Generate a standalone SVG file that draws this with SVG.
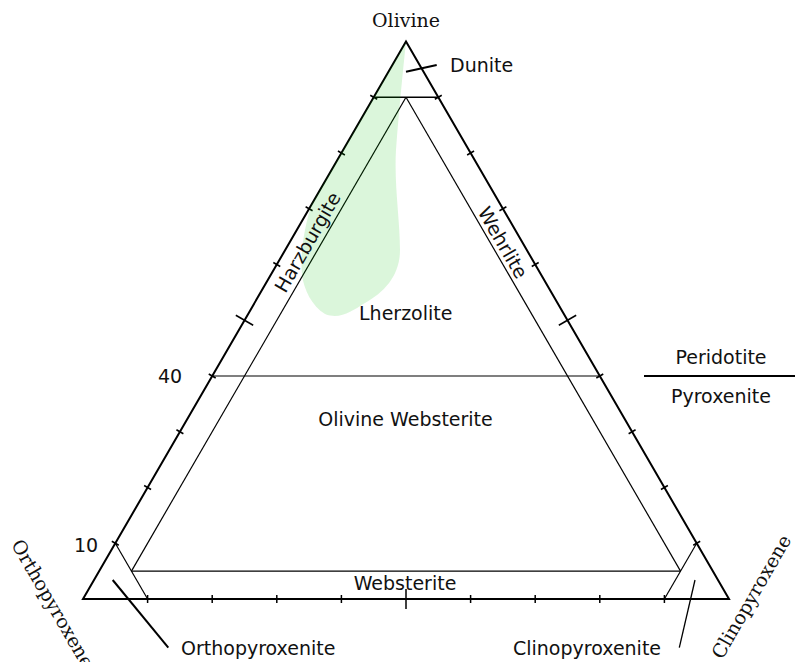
<svg xmlns="http://www.w3.org/2000/svg" xmlns:xlink="http://www.w3.org/1999/xlink" width="795" height="662" viewBox="0 0 795 662">
<style>
.sans{font-family:"DejaVu Sans","Liberation Sans",sans-serif;font-size:19px;fill:#111}
.serif{font-family:"DejaVu Serif","Liberation Serif",serif;font-size:19px;fill:#111}
.outer{fill:none;stroke:#000;stroke-width:2;stroke-linejoin:miter}
.inner{fill:none;stroke:#000;stroke-width:1.2}
.lead{fill:none;stroke:#000;stroke-width:2}
.tick{stroke:#000;stroke-width:1.5}
</style>
<defs>
<line id="t" class="tick" x1="-4" y1="0" x2="4" y2="0"/>
<line id="T" class="tick" x1="-10" y1="0" x2="10" y2="0"/>
</defs>
<rect width="795" height="662" fill="#fff"/>
<g id="frame">
<polygon class="outer" points="406,41.5 83,599 729,599"/>
<line class="inner" x1="373.7" y1="97.25" x2="438.3" y2="97.25" style="stroke-width:1.5"/>
<line class="inner" x1="212.2" y1="376" x2="599.8" y2="376"/>
<line class="inner" x1="406" y1="97.25" x2="131.45" y2="571.1"/>
<line class="inner" x1="406" y1="97.25" x2="680.55" y2="571.1"/>
<line class="inner" x1="131.45" y1="571.1" x2="680.55" y2="571.1"/>
<line class="inner" x1="115.3" y1="543.25" x2="147.6" y2="599"/>
<line class="inner" x1="696.7" y1="543.25" x2="664.4" y2="599"/>
</g>
<g id="ticks">
<use xlink:href="#t" transform="translate(115.3,543.25) rotate(30)"/>
<use xlink:href="#t" transform="translate(147.6,487.5) rotate(30)"/>
<use xlink:href="#t" transform="translate(179.9,431.75) rotate(30)"/>
<use xlink:href="#t" transform="translate(212.2,376) rotate(30)"/>
<use xlink:href="#T" transform="translate(244.5,320.25) rotate(30)"/>
<use xlink:href="#t" transform="translate(276.8,264.5) rotate(30)"/>
<use xlink:href="#t" transform="translate(309.1,208.75) rotate(30)"/>
<use xlink:href="#t" transform="translate(341.4,153) rotate(30)"/>
<use xlink:href="#t" transform="translate(373.7,97.25) rotate(30)"/>
<use xlink:href="#t" transform="translate(696.7,543.25) rotate(-30)"/>
<use xlink:href="#t" transform="translate(664.4,487.5) rotate(-30)"/>
<use xlink:href="#t" transform="translate(632.1,431.75) rotate(-30)"/>
<use xlink:href="#t" transform="translate(599.8,376) rotate(-30)"/>
<use xlink:href="#T" transform="translate(567.5,320.25) rotate(-30)"/>
<use xlink:href="#t" transform="translate(535.2,264.5) rotate(-30)"/>
<use xlink:href="#t" transform="translate(502.9,208.75) rotate(-30)"/>
<use xlink:href="#t" transform="translate(470.6,153) rotate(-30)"/>
<use xlink:href="#t" transform="translate(438.3,97.25) rotate(-30)"/>
<use xlink:href="#t" transform="translate(147.6,599) rotate(90)"/>
<use xlink:href="#t" transform="translate(212.2,599) rotate(90)"/>
<use xlink:href="#t" transform="translate(276.8,599) rotate(90)"/>
<use xlink:href="#t" transform="translate(341.4,599) rotate(90)"/>
<use xlink:href="#T" transform="translate(406,599) rotate(90)"/>
<use xlink:href="#t" transform="translate(470.6,599) rotate(90)"/>
<use xlink:href="#t" transform="translate(535.2,599) rotate(90)"/>
<use xlink:href="#t" transform="translate(599.8,599) rotate(90)"/>
<use xlink:href="#t" transform="translate(664.4,599) rotate(90)"/>
</g>
<g id="connectors">
<line class="lead" x1="406" y1="71.7" x2="436.7" y2="65"/>
<line class="lead" x1="112.7" y1="580" x2="168.3" y2="647.7"/>
<line class="lead" x1="695" y1="580" x2="679.3" y2="647.7" style="stroke-width:1.3"/>
<line class="lead" x1="644" y1="376" x2="795" y2="376"/>
</g>
<g id="field">
<path d="M406,42 C403,70 399,110 396,150 C394,185 400,220 400,250 C400,275 385,292 365,303 C352,311 340,320 325,314 C312,306 304,290 302,275 C300,255 304,228 311.5,204.5 Z" fill="rgb(0,190,0)" fill-opacity="0.14"/>
</g>
<g id="olivine"><text class="serif" x="406" y="27" text-anchor="middle">Olivine</text></g>
<g id="orthopyroxene"><text class="serif" transform="translate(47,607) rotate(60)" text-anchor="middle">Orthopyroxene</text></g>
<g id="clinopyroxene"><text class="serif" transform="translate(757,600) rotate(-60)" text-anchor="middle">Clinopyroxene</text></g>
<g id="dunite"><text class="sans" x="450" y="72">Dunite</text></g>
<g id="harzburgite"><text class="sans" transform="translate(313.5,245.5) rotate(-60)" text-anchor="middle">Harzburgite</text></g>
<g id="wehrlite"><text class="sans" transform="translate(497,246) rotate(60)" text-anchor="middle">Wehrlite</text></g>
<g id="lherzolite"><text class="sans" x="359" y="320">Lherzolite</text></g>
<g id="olivine-websterite"><text class="sans" x="405.5" y="426" text-anchor="middle">Olivine Websterite</text></g>
<g id="websterite"><text class="sans" x="405" y="590" text-anchor="middle">Websterite</text></g>
<g id="peridotite"><text class="sans" x="721" y="364" text-anchor="middle">Peridotite</text></g>
<g id="pyroxenite"><text class="sans" x="721" y="403" text-anchor="middle">Pyroxenite</text></g>
<g id="orthopyroxenite"><text class="sans" x="181" y="655">Orthopyroxenite</text></g>
<g id="clinopyroxenite"><text class="sans" x="513" y="655">Clinopyroxenite</text></g>
<g id="label-40"><text class="sans" x="158" y="383">40</text></g>
<g id="label-10"><text class="sans" x="74" y="552">10</text></g>
</svg>
